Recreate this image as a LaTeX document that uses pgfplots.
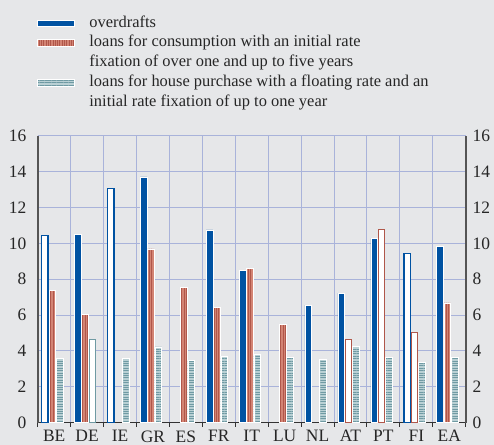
\documentclass[border=0pt]{standalone}
\usepackage{pgfplots}
\pgfplotsset{compat=1.18}
\usepackage{fontspec}
\setmainfont{Liberation Serif}
\usetikzlibrary{patterns.meta}
\definecolor{bg}{HTML}{E6E7E9}
\definecolor{gridc}{HTML}{A9B3DA}
\definecolor{odblue}{HTML}{0052A2}
\definecolor{consred}{HTML}{D38474}
\definecolor{consdark}{HTML}{B0574A}
\definecolor{housec}{HTML}{B9D0D4}
\definecolor{housedark}{HTML}{6F9AA3}
\definecolor{axisc}{HTML}{555555}
\pgfplotsset{
  mylegend/.style={legend image code/.code={\draw[##1] (0bp,-3.3bp) rectangle (37bp,3.3bp);}},
  odstyle/.style={ybar, bar width=0.205, bar shift=-0.28, fill=odblue, draw=white, line width=0.5bp, mylegend},
  odhollow/.style={ybar, bar width=0.19, bar shift=-0.28, fill=white, draw=odblue, line width=1.2bp},
  consstyle/.style={ybar, bar width=0.205, bar shift=-0.06, fill=consred, draw=white, line width=0.5bp,
     postaction={pattern={Lines[angle=90,distance=2.3bp,line width=0.7bp]}, pattern color=consdark}, mylegend},
  conshollow/.style={ybar, bar width=0.19, bar shift=-0.06, fill=white, draw=consdark, line width=1.2bp},
  housestyle/.style={ybar, bar width=0.205, bar shift=0.165, fill=housec, draw=white, line width=0.5bp,
     postaction={pattern={Lines[angle=0,distance=2.4bp,line width=0.9bp]}, pattern color=housedark}, mylegend},
  househollow/.style={ybar, bar width=0.19, bar shift=0.165, fill=white, draw=housedark, line width=1.2bp},
}
\begin{document}
\begin{tikzpicture}[x=1bp,y=1bp]
\fill[bg] (0,0) rectangle (494,445);
\useasboundingbox (0,0) rectangle (494,445);
\begin{axis}[
  at={(37.7bp,22.3bp)}, anchor=south west,
  scale only axis, width=428bp, height=287bp,
  xmin=-0.5, xmax=12.5, ymin=0, ymax=16,
  axis lines*=left,
  axis line style={axisc, line width=1.6bp},
  x axis line style={black!80, line width=1.2bp},
  xtick={0,...,12},
  xticklabels={BE,DE,IE,GR,ES,FR,IT,LU,NL,AT,PT,FI,EA},
  minor xtick={-0.5,0.5,...,12.5},
  xminorgrids, minor x grid style={gridc, line width=1bp},
  ytick={0,2,...,16},
  ymajorgrids, major grid style={gridc, line width=1bp},
  major x tick style={draw=none},
  minor x tick style={black!80, line width=1bp},
  minor tick length=4bp,
  tick align=outside,
  major y tick style={draw=none},
  /pgf/number format/assume math mode=true,
  tick label style={font=\fontsize{17.5}{20}\selectfont, text=black!85},
  yticklabel style={xshift=-3.5bp},
  xticklabel style={yshift=0bp},
  legend cell align=left,
  legend style={at={(axis description cs:-0.0023,1.4206)}, anchor=north west,
    draw=none, fill=none, inner sep=0pt, column sep=15bp, row sep=3.8bp,
    font=\fontsize{16.5}{19}\selectfont, text=black!85,
    nodes={inner sep=0pt, text height=12bp, text depth=4bp}},
]
\addplot[odstyle] coordinates {(1,10.51) (3,13.7) (5,10.75) (6,8.5) (8,6.56) (9,7.23) (10,10.26) (12,9.84)};
\addlegendentry{overdrafts}
\addplot[consstyle] coordinates {(0,7.36) (1,6.05) (3,9.69) (4,7.53) (5,6.41) (6,8.59) (7,5.49) (12,6.68)};
\addlegendentry{loans for consumption with an initial rate}
\addlegendimage{empty legend}
\addlegendentry{fixation of over one and up to five years}
\addplot[housestyle] coordinates {(0,3.57) (2,3.59) (3,4.22) (4,3.46) (5,3.68) (6,3.79) (7,3.66) (8,3.55) (9,4.24) (10,3.63) (11,3.35) (12,3.66)};
\addlegendentry{loans for house purchase with a floating rate and an}
\addlegendimage{empty legend}
\addlegendentry{initial rate fixation of up to one year}
\addplot[odhollow, forget plot] coordinates {(0,10.43) (2,13.05) (11,9.43)};
\addplot[conshollow, forget plot] coordinates {(9,4.63) (10,10.77) (11,5.02)};
\addplot[househollow, forget plot] coordinates {(1,4.65)};
\end{axis}
\begin{axis}[
  at={(37.7bp,22.3bp)}, anchor=south west,
  scale only axis, width=428bp, height=287bp,
  xmin=-0.5, xmax=12.5, ymin=0, ymax=16,
  axis x line=none, axis y line*=right,
  axis line style={axisc, line width=1.6bp},
  ytick={0,2,...,16}, major y tick style={draw=none},
  /pgf/number format/assume math mode=true,
  tick label style={font=\fontsize{17.5}{20}\selectfont, text=black!85},
  yticklabel style={xshift=3.5bp},
]
\addplot[draw=none, forget plot] coordinates {(0,0)};
\end{axis}
\end{tikzpicture}
\end{document}
